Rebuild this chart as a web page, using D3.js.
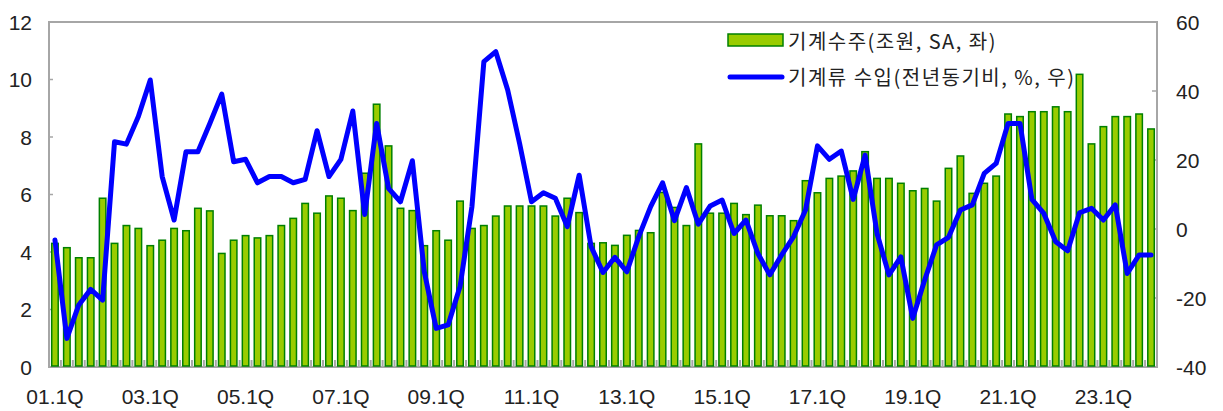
<!DOCTYPE html>
<html><head><meta charset="utf-8">
<script src="https://cdn.jsdelivr.net/npm/d3@7"></script>
<style>body{margin:0;background:#fff}svg{display:block}</style>
</head><body><svg id="c" width="1223" height="411"></svg>
<script>
const categories = [
"01.1Q","01.2Q","01.3Q","01.4Q","02.1Q","02.2Q","02.3Q","02.4Q",
"03.1Q","03.2Q","03.3Q","03.4Q","04.1Q","04.2Q","04.3Q","04.4Q",
"05.1Q","05.2Q","05.3Q","05.4Q","06.1Q","06.2Q","06.3Q","06.4Q",
"07.1Q","07.2Q","07.3Q","07.4Q","08.1Q","08.2Q","08.3Q","08.4Q",
"09.1Q","09.2Q","09.3Q","09.4Q","10.1Q","10.2Q","10.3Q","10.4Q",
"11.1Q","11.2Q","11.3Q","11.4Q","12.1Q","12.2Q","12.3Q","12.4Q",
"13.1Q","13.2Q","13.3Q","13.4Q","14.1Q","14.2Q","14.3Q","14.4Q",
"15.1Q","15.2Q","15.3Q","15.4Q","16.1Q","16.2Q","16.3Q","16.4Q",
"17.1Q","17.2Q","17.3Q","17.4Q","18.1Q","18.2Q","18.3Q","18.4Q",
"19.1Q","19.2Q","19.3Q","19.4Q","20.1Q","20.2Q","20.3Q","20.4Q",
"21.1Q","21.2Q","21.3Q","21.4Q","22.1Q","22.2Q","22.3Q","22.4Q",
"23.1Q","23.2Q","23.3Q","23.4Q","24.1Q"];
// 기계수주 (조원, SA) - left axis
const orders = [
4.30,4.15,3.80,3.80,5.87,4.30,4.92,4.82,
4.22,4.41,4.82,4.74,5.52,5.43,3.95,4.41,
4.57,4.49,4.57,4.92,5.17,5.69,5.35,5.95,
5.87,5.44,6.74,9.14,7.69,5.52,5.44,4.22,
4.74,4.41,5.77,4.82,4.92,5.25,5.60,5.60,
5.60,5.60,5.25,5.87,5.37,4.30,4.32,4.23,
4.58,4.75,4.67,6.07,5.55,4.92,7.76,5.35,
5.35,5.69,5.30,5.63,5.26,5.26,5.09,6.48,
6.06,6.56,6.64,6.82,7.49,6.56,6.56,6.39,
6.13,6.21,5.77,6.91,7.34,6.04,6.39,6.64,
8.80,8.71,8.88,8.88,9.05,8.88,10.18,7.76,
8.36,8.71,8.71,8.80,8.28];
// 기계류 수입 (전년동기비, %) - right axis
const imports = [
-3.2,-31.7,-22.0,-17.5,-20.6,25.3,24.6,32.6,
43.2,15.2,2.6,22.4,22.4,30.6,39.1,19.5,
20.2,13.4,15.2,15.2,13.4,14.4,28.5,15.2,
20.2,34.2,4.2,30.6,11.8,7.9,19.8,-12.4,
-28.8,-27.8,-16.7,6.5,48.5,51.4,40.3,24.8,
7.9,10.5,8.9,0.7,15.6,-5.1,-12.6,-8.2,
-12.4,-2.2,6.5,13.4,2.4,12.0,1.4,6.7,
8.4,-1.3,2.6,-7.1,-13.3,-7.5,-2.2,5.5,
24.1,20.2,22.6,8.6,21.4,-1.3,-13.3,-8.1,
-25.9,-14.8,-4.6,-2.4,5.5,7.0,16.1,19.0,
30.6,30.6,8.6,4.5,-3.7,-6.3,4.7,6.0,
2.6,7.0,-12.9,-7.5,-7.5];
const tickLabels = ["01.1Q","03.1Q","05.1Q","07.1Q","09.1Q","11.1Q","13.1Q","15.1Q","17.1Q","19.1Q","21.1Q","23.1Q"];
const leftTicks = [0,2,4,6,8,10,12];
const rightTicks = [-40,-20,0,20,40,60];
const legendLabels = ["기계수주(조원, SA, 좌)","기계류 수입(전년동기비, %, 우)"];

const L=49,R=1157,T=22,B=367;
const svg=d3.select("#c");
const x=d3.scaleBand().domain(categories).range([L,R]);
const yL=d3.scaleLinear().domain([0,12]).range([B,T]);
const yR=d3.scaleLinear().domain([-40,60]).range([B,T]);
const grey="#a6a6a6", font="'Liberation Sans', Arial, sans-serif";

// frame
svg.append("rect").attr("x",L).attr("y",T).attr("width",R-L).attr("height",B-T)
  .attr("fill","none").attr("stroke",grey).attr("stroke-width",2);

// bottom ticks at category boundaries
svg.append("g").selectAll("line").data(categories.slice(1)).join("line")
  .attr("x1",d=>x(d)).attr("x2",d=>x(d)).attr("y1",B).attr("y2",B-7)
  .attr("stroke",grey).attr("stroke-width",2);
// left ticks
svg.append("g").selectAll("line").data(leftTicks).join("line")
  .attr("x1",L).attr("x2",L+4).attr("y1",d=>yL(d)).attr("y2",d=>yL(d))
  .attr("stroke",grey).attr("stroke-width",1.5);
// right ticks
svg.append("g").selectAll("line").data(rightTicks).join("line")
  .attr("x1",R).attr("x2",R-5).attr("y1",d=>yR(d)).attr("y2",d=>yR(d))
  .attr("stroke",grey).attr("stroke-width",1.5);

// bars
const bw=6.5;
svg.append("g").selectAll("rect").data(orders).join("rect")
  .attr("x",(d,i)=>x(categories[i])+x.bandwidth()/2-bw/2)
  .attr("width",bw)
  .attr("y",d=>yL(d)).attr("height",d=>B-1-yL(d))
  .attr("fill","#99cc00").attr("stroke","#008000").attr("stroke-width",1.5);

// line
const line=d3.line().x((d,i)=>x(categories[i])+x.bandwidth()/2).y(d=>yR(d));
svg.append("path").datum(imports).attr("d",line)
  .attr("fill","none").attr("stroke","#0000ff").attr("stroke-width",5)
  .attr("stroke-linejoin","round").attr("stroke-linecap","round");

// axis labels
svg.append("g").selectAll("text").data(leftTicks).join("text")
  .attr("x",32).attr("y",d=>yL(d)+7.5).attr("text-anchor","end")
  .attr("font-family",font).attr("font-size",21).attr("fill","#222").text(d=>d);
svg.append("g").selectAll("text").data(rightTicks).join("text")
  .attr("x",1176).attr("y",d=>yR(d)+7.5).attr("text-anchor","start")
  .attr("font-family",font).attr("font-size",21).attr("fill","#222").text(d=>d);
svg.append("g").selectAll("text").data(tickLabels).join("text")
  .attr("x",d=>x(d)+x.bandwidth()/2).attr("y",404).attr("text-anchor","middle")
  .attr("font-family",font).attr("font-size",21).attr("fill","#222").text(d=>d);

// legend
const kfont="'Noto Sans CJK KR', sans-serif";
svg.append("rect").attr("x",728).attr("y",34).attr("width",55).attr("height",12)
  .attr("fill","#99cc00").attr("stroke","#008000").attr("stroke-width",1.5);
svg.append("line").attr("x1",730).attr("x2",782).attr("y1",77).attr("y2",77)
  .attr("stroke","#0000ff").attr("stroke-width",5).attr("stroke-linecap","round");
svg.append("g").selectAll("text").data(legendLabels).join("text")
  .attr("x",788).attr("y",(d,i)=>40+i*36).attr("dominant-baseline","central")
  .attr("font-family",kfont).attr("font-size",20).attr("letter-spacing",1.5)
  .attr("fill","#222").text(d=>d);
</script></body></html>
